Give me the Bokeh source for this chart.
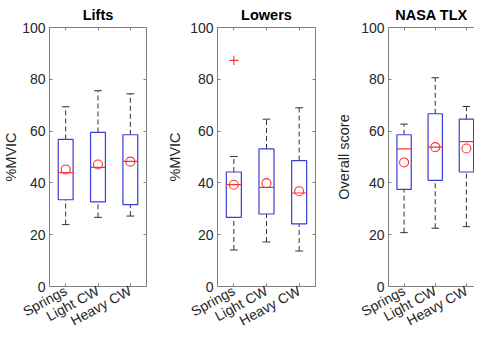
import numpy as np
from bokeh.plotting import figure
from bokeh.layouts import row
from bokeh.models import Range1d, LinearAxis, FixedTicker, CustomLabelingPolicy
from bokeh.embed import file_html
from bokeh.resources import INLINE

categories = ["Springs", "Light CW", "Heavy CW"]
y_ticks = [0, 20, 40, 60, 80, 100]

# Lifts (%MVIC)
lifts_lo = [23.9, 26.7, 27.2]
lifts_q1 = [33.5, 32.7, 31.6]
lifts_med = [44.0, 46.0, 48.3]
lifts_q3 = [56.8, 59.5, 58.6]
lifts_hi = [69.4, 75.6, 74.4]
lifts_mean = [45.2, 47.1, 48.2]
lifts_out_cat = []
lifts_out_val = []

# Lowers (%MVIC)
lowers_lo = [14.1, 17.2, 13.7]
lowers_q1 = [26.7, 28.0, 24.2]
lowers_med = [39.3, 38.3, 36.1]
lowers_q3 = [44.2, 53.1, 48.6]
lowers_hi = [50.2, 64.6, 69.0]
lowers_mean = [39.3, 39.9, 36.8]
lowers_out_cat = ["Springs"]
lowers_out_val = [87.3]

# NASA TLX (overall score)
tlx_lo = [20.8, 22.5, 23.1]
tlx_q1 = [37.5, 41.0, 44.2]
tlx_med = [53.1, 53.8, 55.9]
tlx_q3 = [58.6, 66.7, 64.6]
tlx_hi = [62.7, 80.6, 69.5]
tlx_mean = [47.9, 53.8, 53.3]
tlx_out_cat = []
tlx_out_val = []

FONT = "Liberation Sans"
TXT = "#262626"
AX = "#808080"
BLUE = "#3c3cd6"
RED = "#ff3030"
WHISK = "#333333"

BOX_HW = 0.23
CAP_HW = 0.12


def style_axis(ax, labels=True):
    ax.axis_line_color = AX
    ax.major_tick_line_color = AX
    ax.major_tick_in = 3
    ax.major_tick_out = 0
    ax.minor_tick_line_color = None
    if labels:
        ax.major_label_text_font = FONT
        ax.major_label_text_font_size = "14px"
        ax.major_label_text_color = TXT
        ax.axis_label_text_font = FONT
        ax.axis_label_text_font_size = "14.5px"
        ax.axis_label_text_font_style = "normal"
        ax.axis_label_text_color = TXT
    else:
        ax.major_label_policy = CustomLabelingPolicy(code="return []")
        ax.major_label_text_font_size = "1px"
        ax.major_label_standoff = 0


def panel(title, ylabel, ylabel_standoff, lo, q1, med, q3, hi, mean, out_cat, out_val,
          frame_width, x_end, border_left, right_axis=True):
    xs = np.arange(1, len(categories) + 1)
    p = figure(frame_width=frame_width, frame_height=259,
               x_range=Range1d(0.5, x_end), y_range=Range1d(0, 100),
               output_backend="svg", toolbar_location=None,
               min_border_left=border_left, min_border_right=0,
               min_border_top=27, min_border_bottom=40,
               background_fill_color="white", border_fill_color="white")
    p.outline_line_color = None
    p.grid.visible = False
    p.title.text = title
    p.title.text_font = FONT
    p.title.text_font_size = "14.5px"
    p.title.text_font_style = "bold"
    p.title.text_color = "black"
    p.title.align = "center"
    p.title.standoff = 2

    xt = FixedTicker(ticks=list(xs))
    p.xaxis.ticker = xt
    p.xaxis.major_label_overrides = {int(i): c for i, c in zip(xs, categories)}
    p.xaxis.major_label_orientation = 0.5
    p.yaxis.ticker = FixedTicker(ticks=y_ticks)
    p.yaxis.axis_label = ylabel
    style_axis(p.xaxis[0])
    style_axis(p.yaxis[0])
    p.yaxis.major_label_standoff = 4
    p.yaxis.axis_label_standoff = ylabel_standoff
    p.xaxis.major_label_standoff = 3

    top = LinearAxis(ticker=FixedTicker(ticks=list(xs)))
    style_axis(top, labels=False)
    p.add_layout(top, "above")
    if right_axis:
        rt = LinearAxis(ticker=FixedTicker(ticks=y_ticks))
        style_axis(rt, labels=False)
        p.add_layout(rt, "right")

    lo = np.array(lo); q1 = np.array(q1); med = np.array(med)
    q3 = np.array(q3); hi = np.array(hi); mean = np.array(mean)

    # whiskers
    p.segment(xs, q3, xs, hi, line_color=WHISK, line_dash="5 3", line_width=1)
    p.segment(xs, lo, xs, q1, line_color=WHISK, line_dash="5 3", line_width=1)
    # caps
    p.segment(xs - CAP_HW, hi, xs + CAP_HW, hi, line_color=WHISK, line_width=1)
    p.segment(xs - CAP_HW, lo, xs + CAP_HW, lo, line_color=WHISK, line_width=1)
    # boxes
    p.quad(left=xs - BOX_HW, right=xs + BOX_HW, bottom=q1, top=q3,
           fill_color=None, line_color=BLUE, line_width=1.2)
    # medians
    p.segment(xs - BOX_HW, med, xs + BOX_HW, med, line_color=RED, line_width=1.2)
    # means
    p.scatter(xs, mean, marker="circle", size=9, fill_color=None,
              line_color=RED, line_width=1.1)
    # outliers
    if out_cat:
        ox = [categories.index(c) + 1 for c in out_cat]
        p.scatter(ox, out_val, marker="cross", size=9, line_color=RED, line_width=1.1)
    return p


p1 = panel("Lifts", "%MVIC", 0, lifts_lo, lifts_q1, lifts_med, lifts_q3, lifts_hi,
           lifts_mean, lifts_out_cat, lifts_out_val, 97, 3.5, 44)
p2 = panel("Lowers", "%MVIC", 4, lowers_lo, lowers_q1, lowers_med, lowers_q3, lowers_hi,
           lowers_mean, lowers_out_cat, lowers_out_val, 98, 3.5, 66)
p3 = panel("NASA TLX", "Overall score", 6, tlx_lo, tlx_q1, tlx_med, tlx_q3, tlx_hi,
           tlx_mean, tlx_out_cat, tlx_out_val, 86, 3.26, 68, right_axis=False)

layout = row(p1, p2, p3)
open("out.html", "w").write(file_html(layout, INLINE))
